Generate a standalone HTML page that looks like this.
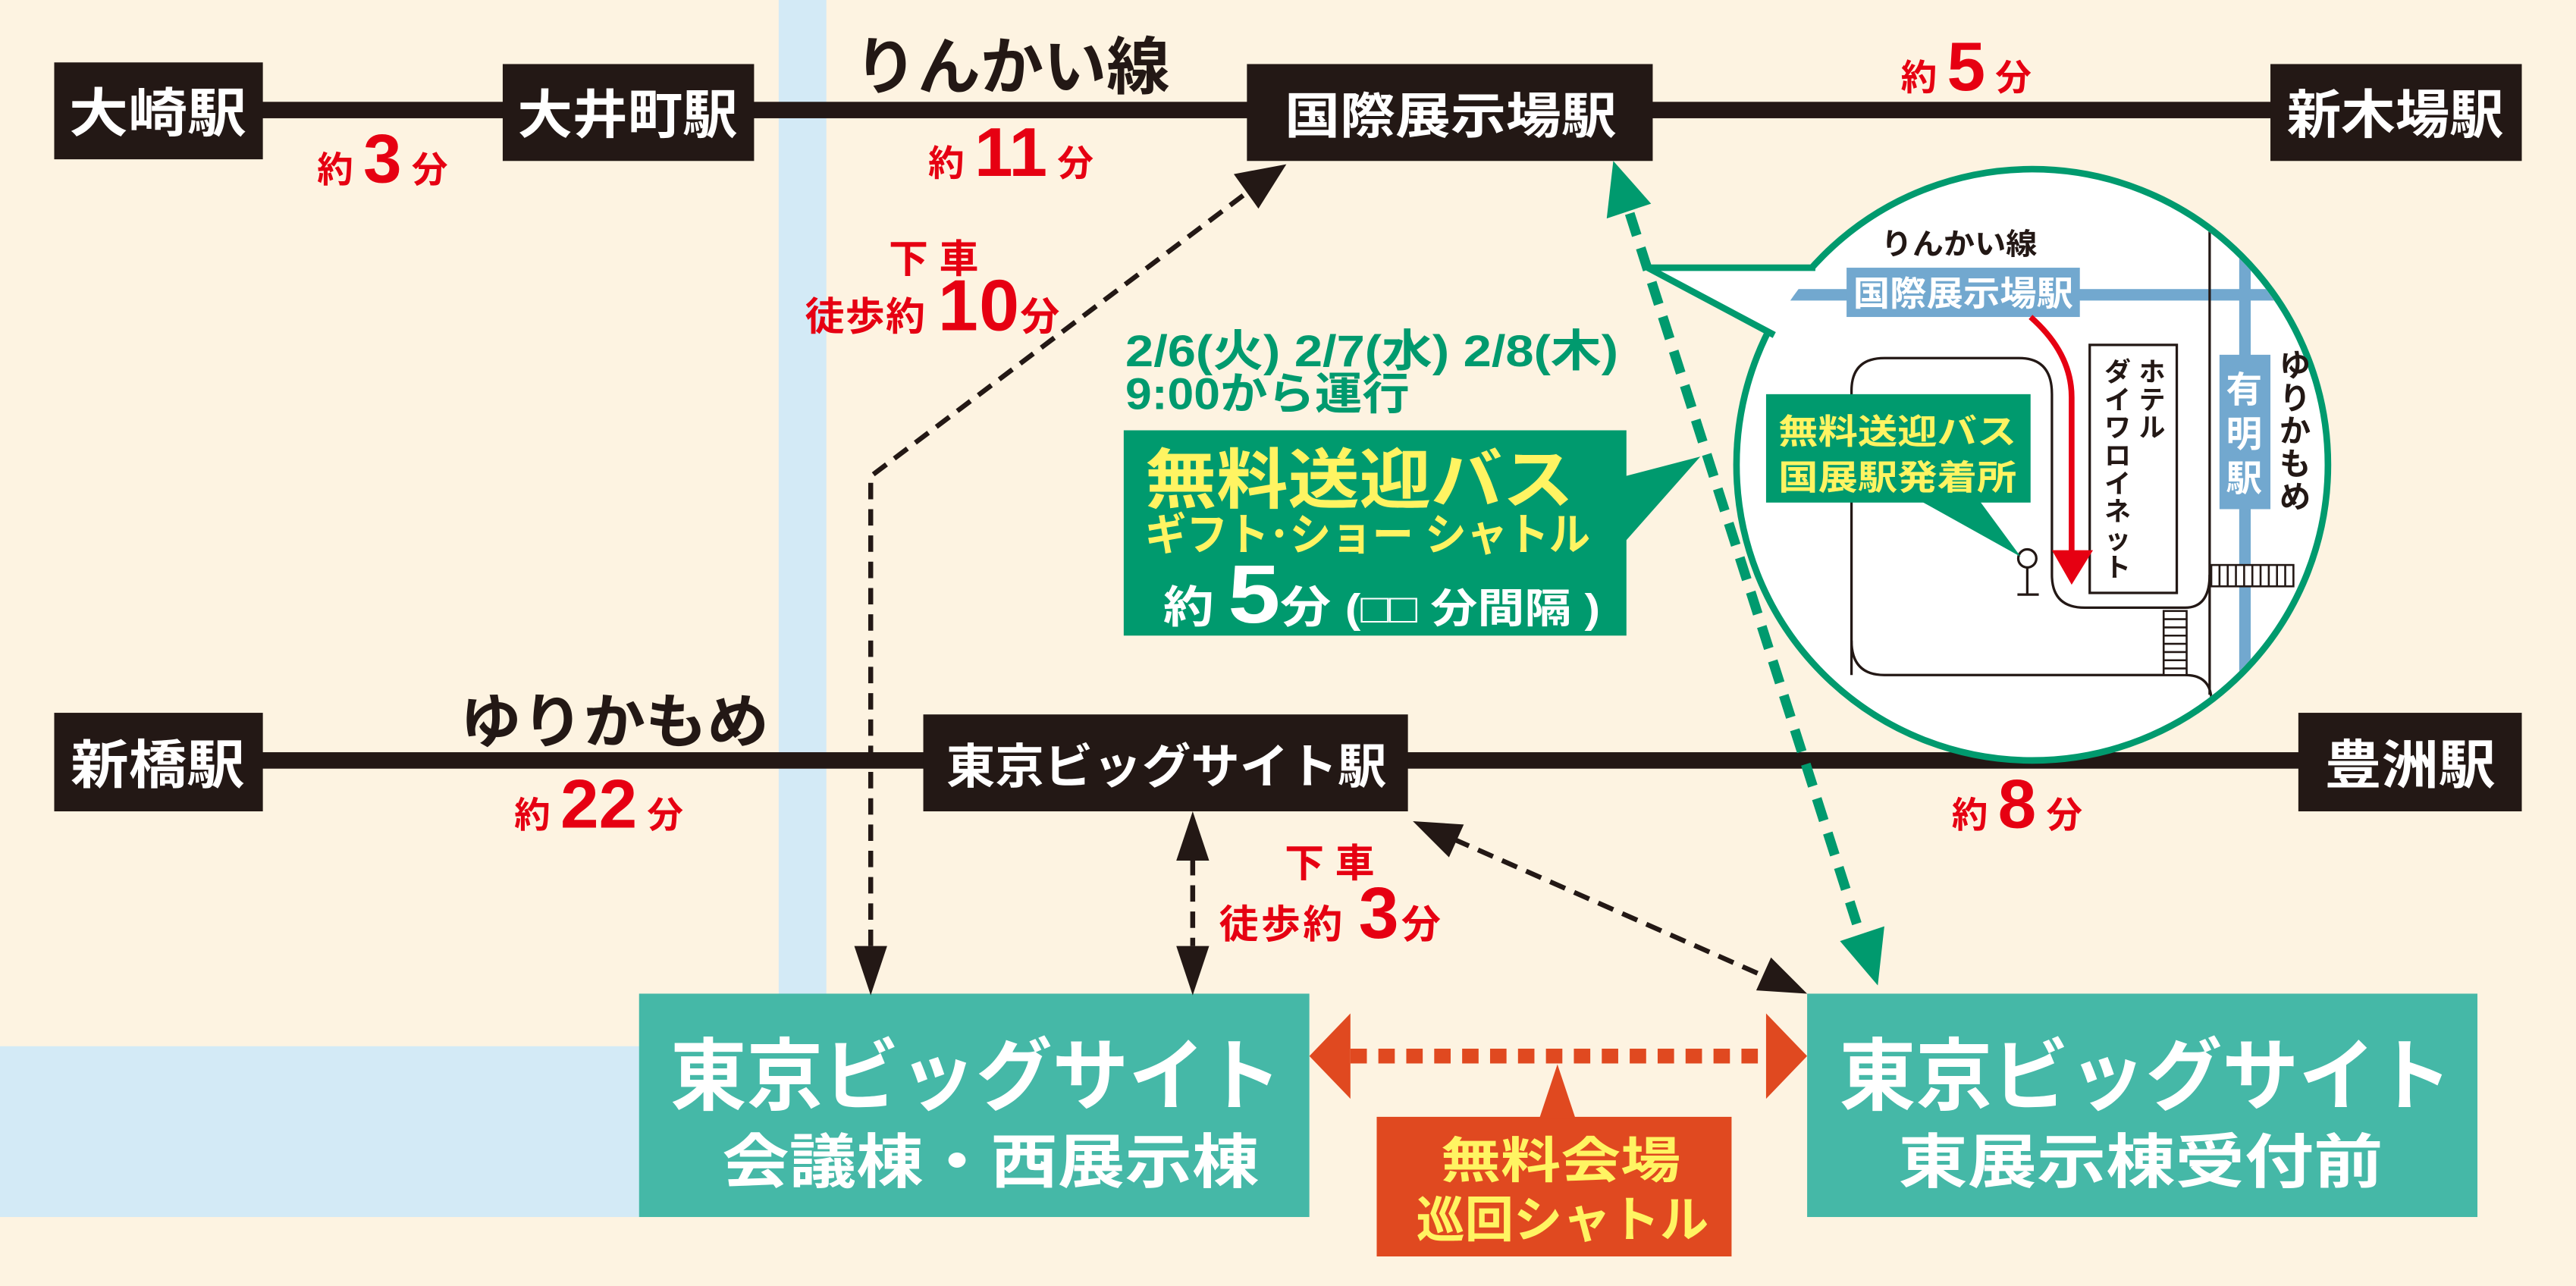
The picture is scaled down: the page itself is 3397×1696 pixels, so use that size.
<!DOCTYPE html>
<html><head><meta charset="utf-8"><style>
html,body{margin:0;padding:0;background:#fdf3e1;}
svg{display:block;}
text{font-family:"Liberation Sans","Noto Sans CJK JP",sans-serif;font-weight:bold;}
</style></head><body>
<svg width="3397" height="1696" viewBox="0 0 1568 783" preserveAspectRatio="none" xmlns="http://www.w3.org/2000/svg">
<rect x="0" y="0" width="1568" height="783" fill="#fdf3e1"/>
<rect x="474" y="0" width="29" height="640" fill="#d3eaf6"/>
<rect x="0" y="637" width="392" height="104" fill="#d3eaf6"/>

<rect x="150" y="62" width="1240" height="10" fill="#231815"/>
<rect x="150" y="458" width="1260" height="10" fill="#231815"/>

<g fill="#231815">
<rect x="33" y="38" width="127" height="59"/>
<rect x="306" y="39" width="153" height="59"/>
<rect x="759" y="39" width="247" height="59"/>
<rect x="1382" y="39" width="153" height="59"/>
<rect x="33" y="434" width="127" height="60"/>
<rect x="562" y="435" width="295" height="59"/>
<rect x="1399" y="434" width="136" height="60"/>
</g>
<g fill="#fff" font-size="32" text-anchor="middle">
<text x="96" y="80" textLength="108" lengthAdjust="spacingAndGlyphs">大崎駅</text>
<text x="382" y="81" textLength="134" lengthAdjust="spacingAndGlyphs">大井町駅</text>
<text x="883" y="81" font-size="30" textLength="202" lengthAdjust="spacingAndGlyphs">国際展示場駅</text>
<text x="1458" y="81" textLength="132" lengthAdjust="spacingAndGlyphs">新木場駅</text>
<text x="96" y="477" textLength="106" lengthAdjust="spacingAndGlyphs">新橋駅</text>
<text x="710" y="477" font-size="29" textLength="268" lengthAdjust="spacingAndGlyphs">東京ビッグサイト駅</text>
<text x="1467" y="477" textLength="104" lengthAdjust="spacingAndGlyphs">豊洲駅</text>
</g>
<text x="520" y="54" font-size="38" fill="#231815" textLength="192" lengthAdjust="spacingAndGlyphs">りんかい線</text>
<text x="280" y="452" font-size="36" fill="#231815" textLength="188" lengthAdjust="spacingAndGlyphs">ゆりかもめ</text>

<g fill="#e60012">
<text x="193" y="111" font-size="22">約 <tspan font-size="42">3</tspan> 分</text>
<text x="565" y="107" font-size="22">約 <tspan font-size="42">11</tspan> 分</text>
<text x="1157" y="55" font-size="22">約 <tspan font-size="42">5</tspan> 分</text>
<text x="313" y="504" font-size="22">約 <tspan font-size="42">22</tspan> 分</text>
<text x="1188" y="504" font-size="22">約 <tspan font-size="42">8</tspan> 分</text>
<text x="541" y="166" font-size="24">下 車</text>
<text x="490" y="201" font-size="24" textLength="155" lengthAdjust="spacing">徒歩約 <tspan font-size="44">10</tspan>分</text>
<text x="782" y="534" font-size="24">下 車</text>
<text x="742" y="571" font-size="24" textLength="135" lengthAdjust="spacing">徒歩約 <tspan font-size="44">3</tspan>分</text>
</g>

<circle cx="1237" cy="283" r="180" fill="#fff" stroke="#009a6e" stroke-width="4"/>
<polygon points="1105,163 1003,163 1080,204" fill="#fff"/>
<polyline points="1105,163 1003,163 1080,204" fill="none" stroke="#009a6e" stroke-width="4"/>
<clipPath id="cc"><circle cx="1237" cy="283" r="178"/></clipPath>
<g clip-path="url(#cc)">
<rect x="1089" y="176" width="330" height="7" fill="#72a8cf"/>
<rect x="1363" y="100" width="7" height="310" fill="#72a8cf"/>
<line x1="1345" y1="100" x2="1345" y2="423" stroke="#231815" stroke-width="1.5"/>
<path d="M1127,411 L1127,238 Q1127,218 1147,218 L1229,218 Q1249,218 1249,240 L1249,350 Q1249,370 1269,370 L1330,370 Q1345,370 1345,350" fill="none" stroke="#231815" stroke-width="1.5"/>
<path d="M1127,390 Q1127,411 1147,411 L1330,411 Q1345,411 1346,425" fill="none" stroke="#231815" stroke-width="1.5"/>
<rect x="1346" y="344" width="50" height="13" fill="#fff" stroke="#231815" stroke-width="1.2"/>
<g stroke="#231815" stroke-width="1.2">
<line x1="1351" y1="344" x2="1351" y2="357"/><line x1="1356" y1="344" x2="1356" y2="357"/><line x1="1361" y1="344" x2="1361" y2="357"/><line x1="1366" y1="344" x2="1366" y2="357"/><line x1="1371" y1="344" x2="1371" y2="357"/><line x1="1376" y1="344" x2="1376" y2="357"/><line x1="1381" y1="344" x2="1381" y2="357"/><line x1="1386" y1="344" x2="1386" y2="357"/><line x1="1391" y1="344" x2="1391" y2="357"/>
</g>
<rect x="1317" y="372" width="14" height="39" fill="#fff" stroke="#231815" stroke-width="1.2"/>
<g stroke="#231815" stroke-width="1.2">
<line x1="1317" y1="377" x2="1331" y2="377"/><line x1="1317" y1="382" x2="1331" y2="382"/><line x1="1317" y1="387" x2="1331" y2="387"/><line x1="1317" y1="392" x2="1331" y2="392"/><line x1="1317" y1="397" x2="1331" y2="397"/><line x1="1317" y1="402" x2="1331" y2="402"/><line x1="1317" y1="407" x2="1331" y2="407"/>
</g>
</g>
<rect x="1124" y="163" width="142" height="30" fill="#72a8cf"/>
<text x="1195" y="186" font-size="21" fill="#fff" text-anchor="middle" textLength="134" lengthAdjust="spacingAndGlyphs">国際展示場駅</text>
<text x="1145" y="155" font-size="18" fill="#231815" textLength="95" lengthAdjust="spacingAndGlyphs">りんかい線</text>
<rect x="1351" y="216" width="31" height="94" fill="#72a8cf"/>
<g fill="#fff" font-size="22" text-anchor="middle"><text x="1366" y="245">有</text><text x="1366" y="272">明</text><text x="1366" y="299">駅</text></g>
<g fill="#231815" font-size="19" text-anchor="middle"><text x="1397" y="229">ゆ</text><text x="1397" y="249">り</text><text x="1397" y="269">か</text><text x="1397" y="289">も</text><text x="1397" y="309">め</text></g>
<rect x="1272" y="210" width="53" height="151" fill="#fff" stroke="#231815" stroke-width="1.5"/>
<g fill="#231815" font-size="16" text-anchor="middle">
<text x="1310" y="232">ホ</text><text x="1310" y="249">テ</text><text x="1310" y="266">ル</text>
<text x="1289" y="232">ダ</text><text x="1289" y="249">イ</text><text x="1289" y="266">ワ</text><text x="1289" y="283">ロ</text><text x="1289" y="300">イ</text><text x="1289" y="317">ネ</text><text x="1289" y="334">ッ</text><text x="1289" y="351">ト</text>
</g>
<path d="M1236,193 Q1261,215 1261,242 L1261,336" fill="none" stroke="#e60012" stroke-width="3.5"/>
<polygon points="1249,335 1274,335 1261,356" fill="#e60012"/>
<circle cx="1234" cy="340" r="5.5" fill="#fff" stroke="#231815" stroke-width="1.5"/>
<line x1="1234" y1="345.5" x2="1234" y2="362" stroke="#231815" stroke-width="1.5"/>
<line x1="1228" y1="362" x2="1241" y2="362" stroke="#231815" stroke-width="1.5"/>
<rect x="1075" y="240" width="161" height="66" fill="#009a6e"/>
<polygon points="1169,305 1205,305 1230,339" fill="#009a6e"/>
<g fill="#fff462" font-size="21" text-anchor="middle">
<text x="1155" y="270" textLength="145" lengthAdjust="spacingAndGlyphs">無料送迎バス</text>
<text x="1155" y="298" textLength="145" lengthAdjust="spacingAndGlyphs">国展駅発着所</text>
</g>

<g fill="#009a6e">
<text x="685" y="223" font-size="27" textLength="300" lengthAdjust="spacingAndGlyphs">2/6(火) 2/7(水) 2/8(木)</text>
<text x="685" y="249" font-size="27" textLength="173" lengthAdjust="spacingAndGlyphs">9:00から運行</text>
</g>
<rect x="684" y="262" width="306" height="125" fill="#009a6e"/>
<polygon points="989,290 1035,278 989,330" fill="#009a6e"/>
<text x="697" y="306" font-size="40" fill="#fff462" textLength="261" lengthAdjust="spacingAndGlyphs">無料送迎バス</text>
<text x="697" y="335" font-size="27" fill="#fff462" textLength="271" lengthAdjust="spacingAndGlyphs">ギフト･ショー シャトル</text>
<text x="708" y="379" font-size="27" fill="#fff" textLength="266" lengthAdjust="spacingAndGlyphs">約 <tspan font-size="50">5</tspan>分 <tspan font-size="25">(□□ 分間隔 )</tspan></text>

<rect x="389" y="605" width="408" height="136" fill="#45b8a7"/>
<rect x="1100" y="605" width="408" height="136" fill="#45b8a7"/>
<g fill="#fff" text-anchor="middle">
<text x="594" y="672" font-size="48" textLength="372" lengthAdjust="spacingAndGlyphs">東京ビッグサイト</text>
<text x="603" y="720" font-size="36" textLength="327" lengthAdjust="spacingAndGlyphs">会議棟・西展示棟</text>
<text x="1306" y="672" font-size="48" textLength="373" lengthAdjust="spacingAndGlyphs">東京ビッグサイト</text>
<text x="1303" y="720" font-size="36" textLength="295" lengthAdjust="spacingAndGlyphs">東展示棟受付前</text>
</g>

<rect x="838" y="680" width="216" height="85" fill="#e04920"/>
<polygon points="937,681 959,681 948,648" fill="#e04920"/>
<g fill="#fff462" text-anchor="middle">
<text x="950" y="717" font-size="30" textLength="146" lengthAdjust="spacingAndGlyphs">無料会場</text>
<text x="951" y="753" font-size="30" textLength="178" lengthAdjust="spacingAndGlyphs">巡回シャトル</text>
</g>
<line x1="822" y1="643" x2="1076" y2="643" stroke="#e04920" stroke-width="9" stroke-dasharray="10,7"/>
<polygon points="797,643 822,617 822,669" fill="#e04920"/>
<polygon points="1100,643 1075,617 1075,669" fill="#e04920"/>

<g stroke="#231815" stroke-width="3" stroke-dasharray="10,6" fill="none">
<polyline points="530,576 530,290 758,118"/>
<line x1="726" y1="523" x2="726" y2="576"/>
<line x1="885" y1="511" x2="1073" y2="594"/>
</g>
<g fill="#231815">
<polygon points="530,606 520,576 540,576"/>
<polygon points="783,100 766,127 751,106"/>
<polygon points="726,494 716,524 736,524"/>
<polygon points="726,606 716,576 736,576"/>
<polygon points="1100,605 1069,603 1078,583"/>
<polygon points="860,500 891,502 882,522"/>
</g>

<line x1="992" y1="130" x2="1132" y2="568" stroke="#009a6e" stroke-width="6" stroke-dasharray="14,8"/>
<polygon points="982,98 978,133 1005,124" fill="#009a6e"/>
<polygon points="1143,600 1120,573 1147,564" fill="#009a6e"/>
</svg>
</body></html>
